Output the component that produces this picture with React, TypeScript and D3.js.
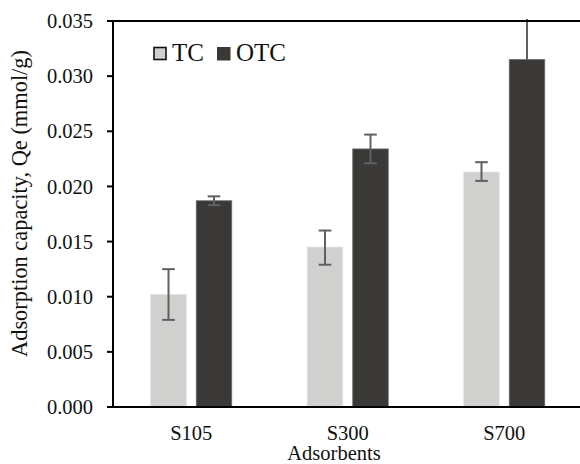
import React from "react";
import * as d3 from "d3";

// Adsorbent categories and series
const categories = ["S105", "S300", "S700"];
const seriesNames = ["TC", "OTC"];

// Mean adsorption capacity, Qe (mmol/g)
const tcValues = [0.0102, 0.0145, 0.0213];
const otcValues = [0.0187, 0.0234, 0.0315];

// Error bar extents above / below the mean
const tcErrPlus = [0.0023, 0.0015, 0.0009];
const tcErrMinus = [0.0023, 0.0016, 0.0008];
const otcErrPlus = [0.0004, 0.0013, 0.0045];
const otcErrMinus = [0.0004, 0.0013, 0];

const yTicks = [0, 0.005, 0.01, 0.015, 0.02, 0.025, 0.03, 0.035];

const W = 580;
const H = 464;
const M = { left: 113, top: 21, right: 582.5, bottom: 407 };
const COLORS: Record<string, string> = { TC: "#d0d0ce", OTC: "#3a3938" };
const EDGE: Record<string, string> = { TC: "#e0e0de", OTC: "#6a6a6a" };

const serif: React.CSSProperties = {
  fontFamily: "'Liberation Serif', 'Times New Roman', Times, serif",
};

export default function App() {
  const x = d3.scaleBand<string>().domain(categories).range([M.left, M.right]).padding(0);
  const y = d3.scaleLinear().domain([0, 0.035]).range([M.bottom, M.top]);
  const groupWidth = 81;
  const xs = d3
    .scaleBand<string>()
    .domain(seriesNames)
    .range([0, groupWidth])
    .paddingInner(0.22)
    .paddingOuter(0);

  const rows = categories.map((c, i) => ({
    cat: c,
    vals: [
      { s: "TC", v: tcValues[i], ep: tcErrPlus[i], em: tcErrMinus[i] },
      { s: "OTC", v: otcValues[i], ep: otcErrPlus[i], em: otcErrMinus[i] },
    ],
  }));

  const capHalf = 6.3;

  return (
    <svg
      width={W}
      height={H}
      style={{ position: "absolute", left: 0, top: 0, background: "#fff" }}
    >
      <defs>
        <clipPath id="plotClip">
          <rect x={0} y={M.top - 2} width={W} height={H} />
        </clipPath>
      </defs>

      {/* grouped bars */}
      {rows.map((r) => {
        const gx = x(r.cat)! + x.bandwidth() / 2 - groupWidth / 2;
        return (
          <g key={r.cat} transform={`translate(${gx},0)`}>
            {r.vals.map((d) => (
              <rect
                key={d.s}
                x={xs(d.s)!}
                y={y(d.v)}
                width={xs.bandwidth()}
                height={y(0) - y(d.v)}
                fill={COLORS[d.s]}
                stroke={EDGE[d.s]}
                strokeWidth={0.8}
              />
            ))}
          </g>
        );
      })}

      {/* error bars, clipped just above the top frame line */}
      <g clipPath="url(#plotClip)" stroke="#606060" strokeWidth={2}>
        {rows.map((r) => {
          const gx = x(r.cat)! + x.bandwidth() / 2 - groupWidth / 2;
          return r.vals.map((d) => {
            const cx = gx + xs(d.s)! + xs.bandwidth() / 2;
            const top = y(d.v + d.ep);
            const bot = y(d.v - d.em);
            return (
              <g key={r.cat + d.s}>
                <line x1={cx} x2={cx} y1={top} y2={bot} />
                {top > M.top && (
                  <line x1={cx - capHalf} x2={cx + capHalf} y1={top} y2={top} />
                )}
                {d.em > 0 && (
                  <line x1={cx - capHalf} x2={cx + capHalf} y1={bot} y2={bot} />
                )}
              </g>
            );
          });
        })}
      </g>

      {/* frame */}
      <line x1={M.left} x2={W} y1={M.top} y2={M.top} stroke="#000" strokeWidth={2} />
      <line x1={M.left - 6} x2={W} y1={M.bottom} y2={M.bottom} stroke="#000" strokeWidth={2} />
      <line x1={M.left} x2={M.left} y1={M.top - 1} y2={M.bottom + 1} stroke="#000" strokeWidth={2} />

      {/* y axis ticks and labels */}
      {yTicks.map((t) => (
        <g key={t}>
          <line x1={M.left - 6} x2={M.left} y1={y(t)} y2={y(t)} stroke="#000" strokeWidth={2} />
          <text x={93} y={y(t)} dy="0.35em" textAnchor="end" fontSize={20.5} fill="#111" style={serif}>
            {d3.format(".3f")(t)}
          </text>
        </g>
      ))}

      {/* category labels */}
      {categories.map((c) => (
        <text key={c} x={x(c)! + x.bandwidth() / 2} y={439.5} textAnchor="middle" fontSize={20.5} fill="#111" style={serif}>
          {c}
        </text>
      ))}

      <text x={334} y={459.5} textAnchor="middle" fontSize={20.5} fill="#111" style={serif}>
        Adsorbents
      </text>

      <text transform={`translate(27,203.5) rotate(-90)`} textAnchor="middle" fontSize={22.4} fill="#111" style={serif}>
        Adsorption capacity, Qe (mmol/g)
      </text>

      {/* legend */}
      <g>
        <rect x={154} y={47.5} width={12} height={12} fill={COLORS.TC} stroke="#111" strokeWidth={1.6} />
        <text x={172} y={60.5} fontSize={25} fill="#111" style={serif}>TC</text>
        <rect x={217} y={47} width={13.5} height={13.5} fill={COLORS.OTC} />
        <text x={236} y={60.5} fontSize={25} fill="#111" style={serif}>OTC</text>
      </g>
    </svg>
  );
}
